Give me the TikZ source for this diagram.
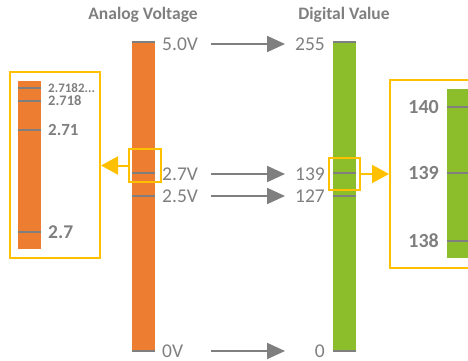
\documentclass[tikz,border=0pt]{standalone}
\usepackage{fontspec}
\setmainfont{Carlito}
\usepackage{tikz}
\usetikzlibrary{arrows.meta,positioning,calc}
\definecolor{barorange}{HTML}{ED7D31}
\definecolor{bargreen}{HTML}{8CBD2A}
\definecolor{hlyellow}{HTML}{FFC000}
\definecolor{txtgray}{HTML}{7F7F7F}
\newcommand{\edigits}{2.7182...}
\tikzset{
  bar/.style={
    rectangle,
    minimum width=23pt,
    inner sep=0pt,
    anchor=north west,
  },
  tickmark/.style={line width=2pt, draw=txtgray},
  lbl/.style={text=txtgray, inner sep=0pt, font=\fontsize{19.5}{19.5}\selectfont},
  zlbl/.style={text=txtgray, inner sep=0pt},
  title/.style={text=txtgray, font=\bfseries\fontsize{17.5}{18}\selectfont},
  hlbox/.style={
    draw=hlyellow,
    rectangle,
    line width=2pt,
    inner sep=0pt,
    anchor=north west,
  },
  conv/.style={draw=txtgray, line width=2pt, -{Triangle[length=18pt,width=16pt]}},
  zoomarr/.style={draw=hlyellow, line width=2pt, -{Triangle[length=17pt,width=18pt]}},
}

\begin{document}
\begin{tikzpicture}[x=1pt,y=-1pt]
  \useasboundingbox (0,0) rectangle (468,361);
  \clip (0,0) rectangle (468,361);

  \node[title] (atitle) at (143,15) {Analog Voltage};
  \node[title] (dtitle) at (344,15) {Digital Value};

  % main bars
  \node[bar, fill=barorange, minimum height=309pt] (abar) at (132,42) {};
  \node[bar, fill=bargreen, minimum height=309pt] (dbar) at (333,42) {};
  \foreach \y in {42,173,196,351} {
    \draw[tickmark] (abar.west |- 0,\y) -- (abar.east |- 0,\y);
    \draw[tickmark] (dbar.west |- 0,\y) -- (dbar.east |- 0,\y);
  }

  % voltage and code labels
  \coordinate (arrL) at (211,0);
  \coordinate (arrR) at (285,0);
  \foreach \y/\v/\d [count=\k] in {44/5.0V/255,174/2.7V/139,196/2.5V/127,351/0V/0} {
    \node[lbl, anchor=west] (v\k) at (162,\y) {\v};
    \node[lbl, anchor=east] (d\k) at (325,\y) {\d};
    \draw[conv] (v\k -| arrL) -- (d\k -| arrR);
  }

  % highlight boxes
  \node[hlbox, minimum width=32pt, minimum height=33pt] (ahl) at (128,148) {};
  \node[hlbox, minimum width=31pt, minimum height=32pt] (dhl) at (328,157) {};

  % zoomed analog
  \node[hlbox, minimum width=90pt, minimum height=186pt] (azoom) at (9,71) {};
  \node[bar, fill=barorange, minimum height=168pt] (azbar) at (18,81) {};
  \foreach \y/\t/\s in {88/\edigits/13,101/2.718/14.5,130/2.71/17,232/2.7/19.5} {
    \draw[tickmark] (azbar.west |- 0,\y) -- (azbar.east |- 0,\y);
    \node[zlbl, anchor=west, font=\bfseries\fontsize{\s}{\s}\selectfont] at (48,\y) {\t};
  }
  \draw[zoomarr] (ahl.west) -- (ahl.west -| azoom.east);

  % zoomed digital
  \node[hlbox, minimum width=95pt, minimum height=188pt] (dzoom) at (389,79) {};
  \node[bar, fill=bargreen, minimum height=169pt] (dzbar) at (447,89) {};
  \foreach \y/\t in {107/140,173/139,241/138} {
    \draw[tickmark] (dzbar.west |- 0,\y) -- (dzbar.east |- 0,\y);
    \node[zlbl, anchor=east, font=\bfseries\fontsize{20}{20}\selectfont] at (439,\y) {\t};
  }
  \draw[zoomarr] (dhl.east) -- (dhl.east -| dzoom.west);
\end{tikzpicture}
\end{document}
